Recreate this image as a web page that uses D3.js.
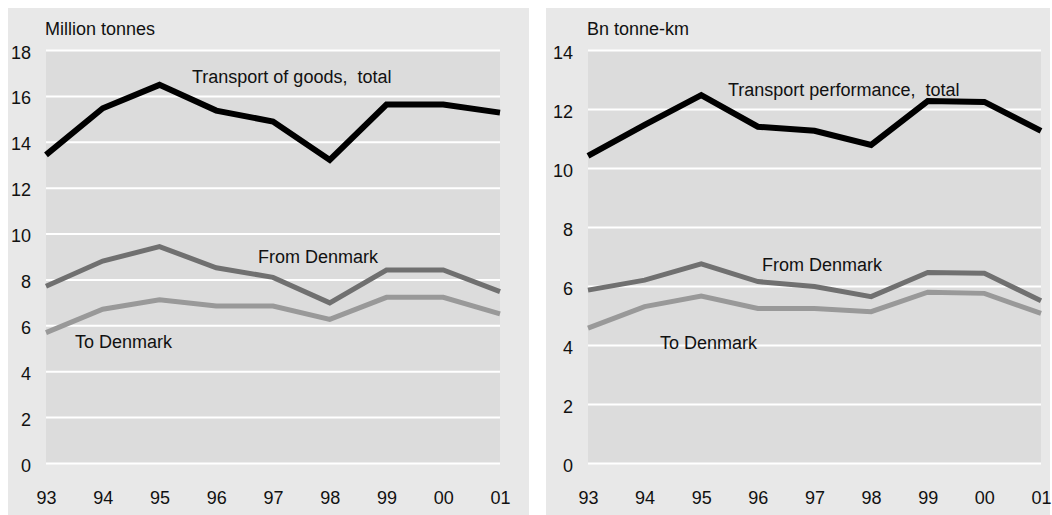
<!DOCTYPE html>
<meta charset="utf-8">
<style>
body { margin:0; background:#fff; }
text { font-family: "Liberation Sans", Arial, sans-serif; font-size:18px; fill:#111; }
</style>

<svg width="1052" height="515" id="chart"></svg>

<script src="https://d3js.org/d3.v7.min.js"></script>

<script>

// years on the x axis
var years = ["93","94","95","96","97","98","99","00","01"]

// left panel, million tonnes
var goodsTotal = [13.43, 15.46, 16.48, 15.36, 14.88, 13.21, 15.62, 15.62, 15.27]
var goodsFrom  = [7.70, 8.80, 9.43, 8.51, 8.09, 6.98, 8.41, 8.41, 7.47]
var goodsTo    = [5.68, 6.70, 7.11, 6.84, 6.84, 6.26, 7.22, 7.22, 6.50]
var goodsTicks = [0, 2, 4, 6, 8, 10, 12, 14, 16, 18]

// right panel, bn tonne-km
var perfTotal = [10.41, 11.46, 12.47, 11.40, 11.26, 10.78, 12.27, 12.24, 11.26]
var perfFrom  = [5.86, 6.20, 6.75, 6.15, 5.98, 5.64, 6.46, 6.43, 5.50]
var perfTo    = [4.57, 5.30, 5.66, 5.24, 5.24, 5.13, 5.79, 5.75, 5.07]
var perfTicks = [0, 2, 4, 6, 8, 10, 12, 14]

var svg = d3.select("#chart")

drawPanel({
	box: [8, 529], plot: [46, 500], unit: "Million tonnes", ticks: goodsTicks,
	series: [
		{vals: goodsTo, color: "#999999", w: 5},
		{vals: goodsFrom, color: "#707070", w: 5},
		{vals: goodsTotal, color: "#000000", w: 6}
	],
	labels: [
		{t: "Transport of goods,  total", x: 192, y: 83},
		{t: "From Denmark", x: 258, y: 263},
		{t: "To Denmark", x: 75, y: 348}
	]
})

drawPanel({
	box: [546, 1050], plot: [588, 1041], unit: "Bn tonne-km", ticks: perfTicks,
	series: [
		{vals: perfTo, color: "#999999", w: 5},
		{vals: perfFrom, color: "#707070", w: 5},
		{vals: perfTotal, color: "#000000", w: 6}
	],
	labels: [
		{t: "Transport performance,  total", x: 728, y: 96},
		{t: "From Denmark", x: 762, y: 271},
		{t: "To Denmark", x: 660, y: 349}
	]
})


function drawPanel(cfg){

	var g = svg.append("g")

	g.append("rect")
		.attr("x", cfg.box[0]).attr("y", 8)
		.attr("width", cfg.box[1]-cfg.box[0]).attr("height", 507)
		.attr("fill", "#e8e8e8")

	var x = d3.scalePoint()
		.domain(years)
		.range(cfg.plot)

	var y = d3.scaleLinear()
		.domain([0, d3.max(cfg.ticks)])
		.range([463, 50])

	g.append("rect")
		.attr("x", cfg.plot[0]).attr("y", y.range()[1])
		.attr("width", cfg.plot[1]-cfg.plot[0])
		.attr("height", y.range()[0]-y.range()[1])
		.attr("fill", "#dcdcdc")

	// white grid lines + tick numbers
	var ya = g.append("g")
		.attr("transform", "translate(" + cfg.plot[0] + ",0)")
		.call(d3.axisLeft(y).tickValues(cfg.ticks).tickSize(-(cfg.plot[1]-cfg.plot[0])).tickPadding(15))
	ya.select(".domain").remove()
	ya.selectAll("line").attr("stroke", "#fff").attr("stroke-width", 2)
	ya.selectAll("text").attr("font-size", 18).attr("font-family", null).attr("fill", "#111").attr("dy", "0.45em")

	var xa = g.append("g")
		.attr("transform", "translate(0,463)")
		.call(d3.axisBottom(x).tickSize(0).tickPadding(28))
	xa.select(".domain").remove()
	xa.selectAll("text").attr("font-size", 18).attr("font-family", null).attr("fill", "#111")

	g.append("text")
		.attr("x", cfg.plot[0] - 1).attr("y", 35)
		.text(cfg.unit)

	var line = d3.line()
		.x(function(d,i){ return x(years[i]) })
		.y(function(d){ return y(d) })

	cfg.series.forEach(function(s){
		g.append("path")
			.datum(s.vals)
			.attr("d", line)
			.attr("fill", "none")
			.attr("stroke", s.color)
			.attr("stroke-width", s.w)
			.attr("stroke-linejoin", "miter")
	})

	g.selectAll(".lab").data(cfg.labels).enter().append("text")
		.attr("class", "lab")
		.attr("x", function(d){ return d.x })
		.attr("y", function(d){ return d.y })
		.style("white-space", "pre")
		.text(function(d){ return d.t })
}

</script>
